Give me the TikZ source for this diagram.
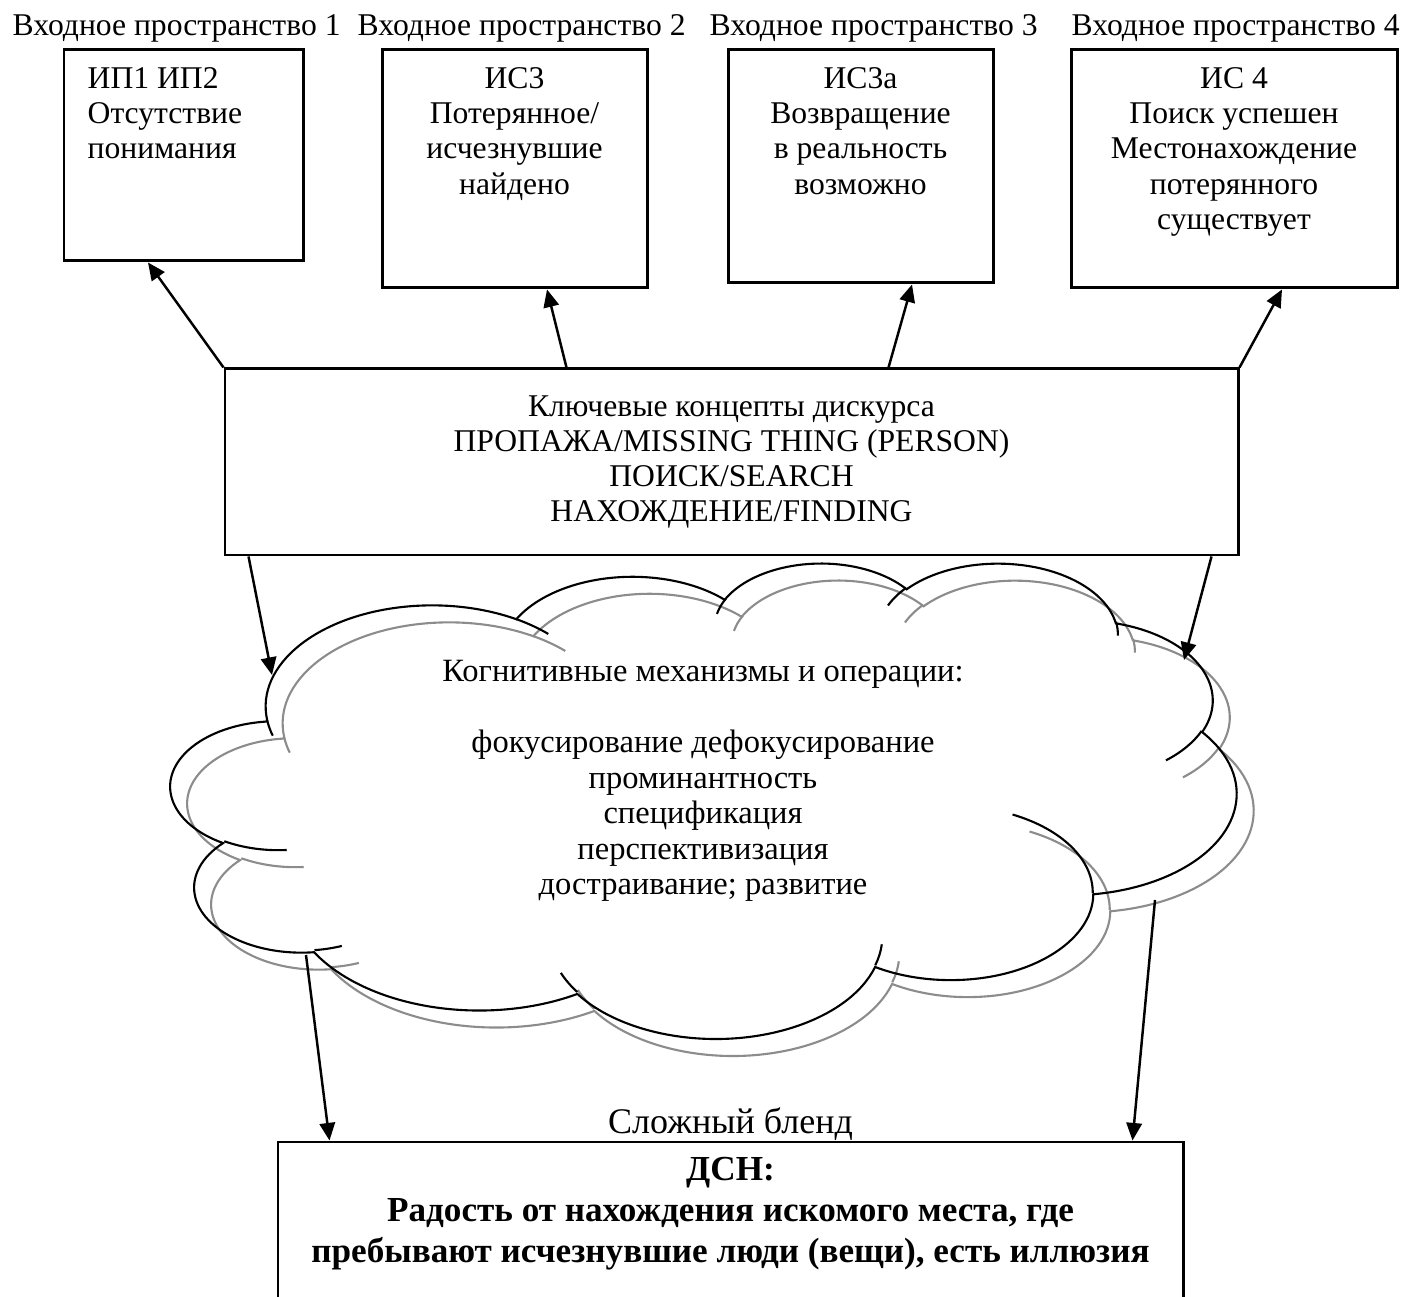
\documentclass[tikz,border=0pt]{standalone}
\usepackage{fontspec}
\setmainfont{Liberation Serif}
\usetikzlibrary{positioning,arrows.meta,calc}
\colorlet{shadowgray}{black!45}

\begin{document}
\begin{tikzpicture}[font=\fontsize{9}{10}\selectfont,
  box/.style={draw,line width=0.85pt,inner sep=0pt},
  boxtext/.style={anchor=north,align=center,inner sep=0pt},
  conn/.style={line width=0.7pt,-{Triangle[length=5pt,width=4.4pt]}},
  cloudline/.style={line width=0.6pt}]
\useasboundingbox (0,0) rectangle (14.18,12.96);
\node[anchor=base west,inner sep=0pt] (sp1) at (0.12,12.605) {Входное пространство 1};
\node[anchor=base west,inner sep=0pt] (sp2) at (3.57,12.605) {Входное пространство 2};
\node[anchor=base west,inner sep=0pt] (sp3) at (7.09,12.605) {Входное пространство 3};
\node[anchor=base west,inner sep=0pt] (sp4) at (10.71,12.605) {Входное пространство 4};
\node[box,minimum width=2.39cm,minimum height=2.11cm] (ip1) at (1.835,11.405) {};
\node[box,minimum width=2.65cm,minimum height=2.38cm] (ip2) at (5.145,11.27) {};
\node[box,minimum width=2.65cm,minimum height=2.33cm] (ip3) at (8.605,11.295) {};
\node[box,minimum width=3.26cm,minimum height=2.38cm] (ip4) at (12.34,11.27) {};
\node[boxtext,anchor=north west,align=left] (ip1txt) at (0.87,12.29) {ИП1 ИП2\\Отсутствие\\понимания};
\node[boxtext] (ip2txt) at (5.145,12.29) {ИС3\\Потерянное/\\исчезнувшие\\найдено};
\node[boxtext] (ip3txt) at (8.605,12.29) {ИС3а\\Возвращение\\в реальность\\возможно};
\node[boxtext] (ip4txt) at (12.34,12.29) {ИС 4\\Поиск успешен\\Местонахождение\\потерянного\\существует};
\node[box,minimum width=10.13cm,minimum height=1.86cm,align=center] (key) at (7.315,8.34)
  {Ключевые концепты дискурса\\ПРОПАЖА/MISSING THING (PERSON)\\ПОИСК/SEARCH\\НАХОЖДЕНИЕ/FINDING};
\foreach \off/\col in {0.17/shadowgray,0/black}{
\begin{scope}[shift={(1.71+\off,7.34-\off)},x=0.024653cm,y=-0.010995cm]
\draw[cloudline,draw=\col] (39,143.7)
  foreach \rx/\ry/\st/\sw in {67.53/91.9/-190.4875/123.7805,53.33/72.67/-144.1024/89.9452,
    43.65/59.45/-145.8079/99.723,48.57/65.95/-130.9861/117.2417,53.33/72.73/-78.7089/109.0269,
    67.75/92.2/-46.2673/130.269,57.85/78.67/0.625/114.0333,67.52/92.15/22.4516/115.1726,
    77.2/105.43/66.2426/75.711,43.6/59.18/-274.9421/146.7356,43.45/59.45/-246.8285/152.5189}
  {arc[x radius=\rx,y radius=\ry,start angle={atan2(\rx*sin(\st),\ry*cos(\st))},
    delta angle={mod(atan2(\rx*sin(\st+\sw),\ry*cos(\st+\sw))-atan2(\rx*sin(\st),\ry*cos(\st))+720,360)}]}
  -- cycle;
\draw[cloudline,draw=\col]
  foreach \px/\py/\rx/\ry/\st/\sw in {46.93/261.77/43.45/59.45/86.742/26.4295,
    69.28/348.99/43.6/59.18/73.6105/11.4475,164.78/390.9/67.52/92.15/137.6242/14.0811,
    288.27/347.51/67.52/92.15/6.4533/15.9984,341.29/229.54/57.85/78.67/-70.2924/70.9174,
    417.98/153.54/53.33/72.73/30.318/27.7515,383.24/54.26/48.57/65.95/-13.7443/14.8589,
    290.78/39.52/48.57/65.95/-149.1815/18.1954,221.41/47.2/43.65/59.45/-163.4943/17.6864,
    140/51.92/67.53/91.9/-66.707/12.3194,41.27/157.89/67.53/91.9/157.6544/11.8582}
  {(\px,\py) arc[x radius=\rx,y radius=\ry,start angle={atan2(\rx*sin(\st),\ry*cos(\st))},
    delta angle={mod(atan2(\rx*sin(\st+\sw),\ry*cos(\st+\sw))-atan2(\rx*sin(\st),\ry*cos(\st))+720,360)}]};
\end{scope}}
\node[align=center,font=\fontsize{9.25}{10.1}\selectfont] (mech) at (7.03,5.15)
  {Когнитивные механизмы и операции:\\[10.1pt]фокусирование дефокусирование\\проминантность\\спецификация\\перспективизация\\достраивание; развитие};
\node[box,minimum width=9.05cm,minimum height=1.7cm] (dsn) at (7.305,0.69) {};
\node[boxtext,font=\fontsize{10}{11.7}\selectfont\bfseries] (dsntxt) at ($(dsn.north)+(0,-0.16)$)
  {ДСН:\\Радость от нахождения искомого места, где\\пребывают исчезнувшие люди (вещи), есть иллюзия};
\node[font=\fontsize{10.25}{12}\selectfont] (blend) at ($(dsn.north)+(0,0.16)$) {Сложный бленд};
\coordinate (cloudNW) at (2.72,6.21);
\coordinate (cloudNE) at (11.84,6.36);
\coordinate (cloudSW) at (3.06,3.41);
\coordinate (cloudSE) at (11.55,3.96);
\draw[conn] (key.north west) -- ($(ip1.south)+(-0.355,0)$);
\draw[conn] ($(key.north west)+(3.43,0)$) -- ($(ip2.south)+(0.325,0)$);
\draw[conn] ($(key.north west)+(6.65,0)$) -- ($(ip3.south)+(0.515,0)$);
\draw[conn] (key.north east) -- ($(ip4.south)+(0.48,0)$);
\draw[conn] ($(key.south west)+(0.25,0)$) -- (cloudNW);
\draw[conn] ($(key.south east)+(-0.28,0)$) -- (cloudNE);
\draw[conn] (cloudSW) -- ($(dsn.north west)+(0.53,0)$);
\draw[conn] (cloudSE) -- ($(dsn.north east)+(-0.52,0)$);
\end{tikzpicture}
\end{document}
